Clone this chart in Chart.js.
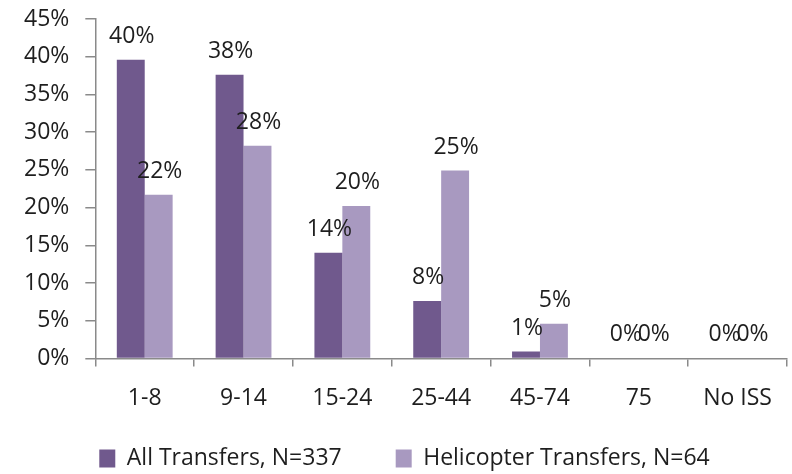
<!DOCTYPE html>
<html>
<head>
<meta charset="utf-8">
<script src="https://cdn.jsdelivr.net/npm/chart.js@4/dist/chart.umd.min.js"></script>
<style>
  html, body { margin: 0; padding: 0; background: #ffffff; }
  #wrap { width: 792px; height: 474px; }
</style>
</head>
<body>
<div id="wrap"><canvas id="c" width="792" height="474"></canvas></div>
<script>
// ISS bands on the x axis
const categories = ['1-8', '9-14', '15-24', '25-44', '45-74', '75', 'No ISS'];
// Share of patients in each band (%)
const allTransfers = [39.6, 37.6, 14.0, 7.6, 0.9, 0, 0];
const helicopterTransfers = [21.7, 28.2, 20.2, 24.9, 4.6, 0, 0];
const seriesNames = ['All Transfers, N=337', 'Helicopter Transfers, N=64'];
// Y axis ticks (%)
const yTicks = [0, 5, 10, 15, 20, 25, 30, 35, 40, 45];

const FONT = 'Open Sans';
const FONT_SIZE = 23;
const TEXT = '#1e1e1e';
const AXIS = '#8a8a8a';

Chart.defaults.font.family = FONT;
Chart.defaults.font.size = FONT_SIZE;
Chart.defaults.color = TEXT;

// Percent labels above every bar
const valueLabels = {
  id: 'valueLabels',
  afterDatasetsDraw(chart) {
    const ctx = chart.ctx;
    ctx.save();
    ctx.font = FONT_SIZE + 'px "' + FONT + '"';
    ctx.fillStyle = TEXT;
    ctx.textAlign = 'center';
    ctx.textBaseline = 'alphabetic';
    chart.data.datasets.forEach((ds, i) => {
      chart.getDatasetMeta(i).data.forEach((bar, j) => {
        ctx.fillText(Math.round(ds.data[j]) + '%', bar.x + 1, bar.y - 17);
      });
    });
    ctx.restore();
  }
};

// The legend row sits closer to the category labels, and slightly right
// of centre, compared with where the layout engine would put it
const LEGEND_RAISE = 37;
const LEGEND_SHIFT = 7;
const legendNudge = {
  id: 'legendNudge',
  afterLayout(chart) {
    const lg = chart.legend;
    if (!lg) return;
    lg.top -= LEGEND_RAISE;
    lg.height += LEGEND_RAISE;
    lg.left += LEGEND_SHIFT;
    lg.right += LEGEND_SHIFT;
  }
};

new Chart(document.getElementById('c'), {
  type: 'bar',
  data: {
    labels: categories,
    datasets: [
      { label: seriesNames[0], data: allTransfers, backgroundColor: '#70598d', borderWidth: 0 },
      { label: seriesNames[1], data: helicopterTransfers, backgroundColor: '#a899c0', borderWidth: 0 }
    ]
  },
  options: {
    responsive: false,
    animation: false,
    devicePixelRatio: 1,
    layout: { padding: { left: 8, right: 5, top: 19, bottom: 0 } },
    categoryPercentage: 0.565,
    barPercentage: 1,
    scales: {
      x: {
        offset: true,
        grid: { display: true, offset: true, drawOnChartArea: false, drawTicks: true, tickLength: 8, color: AXIS, lineWidth: 1.5 },
        border: { display: true, color: AXIS, width: 1.5 },
        ticks: { padding: 18, color: TEXT, font: { size: FONT_SIZE } }
      },
      y: {
        min: 0,
        max: 45,
        afterBuildTicks(scale) { scale.ticks = yTicks.map(v => ({ value: v })); },
        grid: { display: true, drawOnChartArea: false, drawTicks: true, tickLength: 10, color: AXIS, lineWidth: 1.5 },
        border: { display: true, color: AXIS, width: 1.5 },
        ticks: { padding: 16, color: TEXT, font: { size: FONT_SIZE }, callback: v => v + '%' },
        afterFit(scale) { scale.paddingTop = 0; }
      }
    },
    plugins: {
      legend: {
        position: 'bottom',
        maxHeight: 44,
        labels: { boxWidth: 16, boxHeight: 18, padding: 54, color: TEXT, font: { size: FONT_SIZE } }
      },
      tooltip: { enabled: false }
    }
  },
  plugins: [valueLabels, legendNudge]
});
</script>
</body>
</html>
